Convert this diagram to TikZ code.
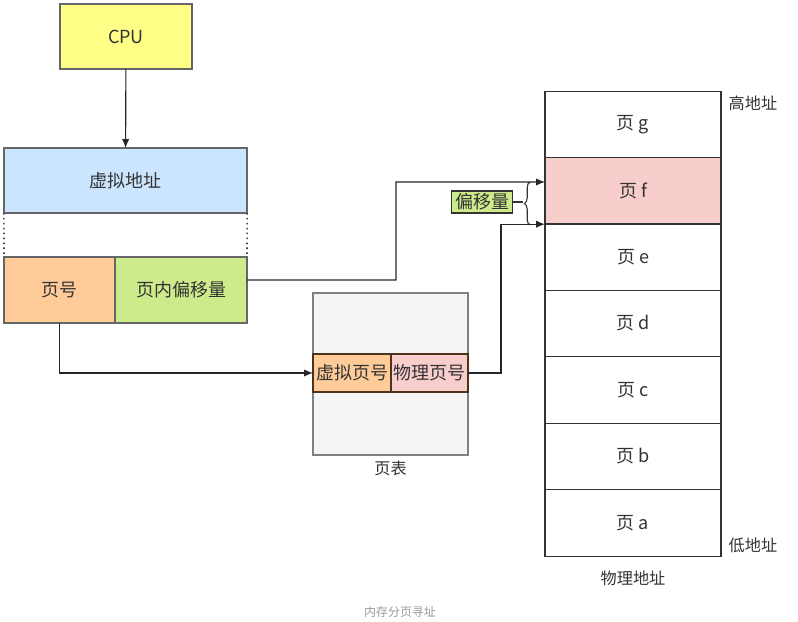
\documentclass[tikz,border=0pt]{standalone}
\usepackage{fontspec}
\setmainfont{Noto Sans CJK SC}
\usetikzlibrary{positioning, arrows.meta, decorations.pathreplacing}
\definecolor{cpuY}{HTML}{FFFF88}
\definecolor{vaB}{HTML}{CCE5FF}
\definecolor{pnO}{HTML}{FFCC99}
\definecolor{offG}{HTML}{CDEB8B}
\definecolor{pgR}{HTML}{F8CECC}
\definecolor{ptG}{HTML}{F5F5F5}
\definecolor{txt}{HTML}{333333}

\begin{document}
\begin{tikzpicture}[x=0.025cm, y=-0.025cm, % 1 unit = 1 px of the sketch
  box/.style={draw=txt, line width=0.8pt, inner sep=0pt, outer sep=0pt, text=txt, font=\fontsize{12.8}{15}\selectfont},
  pagebox/.style={box, minimum width=4.4cm, minimum height=1.66cm},
  arr/.style={-{Latex[length=2.2mm,width=1.8mm]}, line width=0.8pt, draw=black!85},
  lbl/.style={text=txt, font=\fontsize{11.5}{13}\selectfont}]

\useasboundingbox (0,0) rectangle (798,622);

% virtual side
\node[box, fill=cpuY, draw=black!60, minimum width=3.3cm, minimum height=1.625cm] (cpu) at (126,36.5) {CPU};
\node[box, fill=vaB, draw=black!60, minimum width=6.075cm, minimum height=1.625cm] (va) at (125.5,180.5) {虚拟地址};
\node[box, fill=pnO, draw=black!60, minimum width=2.775cm, minimum height=1.65cm] (pn) at (59.5,290) {页号};
\node[box, fill=offG, draw=black!60, minimum width=3.3cm, minimum height=1.65cm] (off) at (181,290) {页内偏移量};
\draw[line width=1.1pt, black!75, dash pattern=on 1.1pt off 2.4pt] (va.south west) -- (pn.north west);
\draw[line width=1.1pt, black!75, dash pattern=on 1.1pt off 2.4pt] (va.south east) -- (off.north east);

% page table
\node[box, fill=ptG, draw=black!50, minimum width=3.875cm, minimum height=4.05cm] (pt) at (390.5,374) {};
\node[box, fill=pnO, draw=brown!40!black, minimum width=1.95cm, minimum height=0.95cm] (vpn) at (352,373) {虚拟页号};
\node[box, fill=pgR, draw=brown!40!black, minimum width=1.925cm, minimum height=0.95cm] (ppn) at (429.5,373) {物理页号};
\node[lbl, below=1pt of pt] (ptl) {页表};

% physical memory
\node[pagebox] (pg) at (633,124.5) {页 g};
\node[pagebox, fill=pgR] (pf) at (633,191) {页 f};
\node[pagebox] (pe) at (633,257) {页 e};
\node[pagebox] (pd) at (633,323.5) {页 d};
\node[pagebox] (pc) at (633,390) {页 c};
\node[pagebox] (pb) at (633,456.5) {页 b};
\node[pagebox] (pa) at (633,523) {页 a};
\node[lbl] (hi) at (753,103) {高地址};
\node[lbl] (lo) at (753,545) {低地址};
\node[lbl] (pm) at (633,578) {物理地址};

% offset marker
\node[box, fill=offG, minimum width=1.525cm, minimum height=0.55cm] (offl) at (482,202) {偏移量};
\coordinate (fin) at (545,182);
\draw[line width=0.8pt, txt, decorate, decoration={brace, amplitude=4pt}] (530,225) -- (530,182);
\draw[line width=0.8pt, txt] (offl.east) -- (523,202);

% connectors
\draw[arr] (cpu) -- (va);
\draw[arr] ([yshift=2.5mm]off.east) -- (396,280) |- (fin);
\draw[arr] (pn.south) |- (vpn.west);
\draw[arr] (ppn.east) -- (501,373) |- (pf.south west);

\node[text=black!40, font=\fontsize{8.5}{10}\selectfont] (cap) at (400,612) {内存分页寻址};

\end{tikzpicture}
\end{document}
